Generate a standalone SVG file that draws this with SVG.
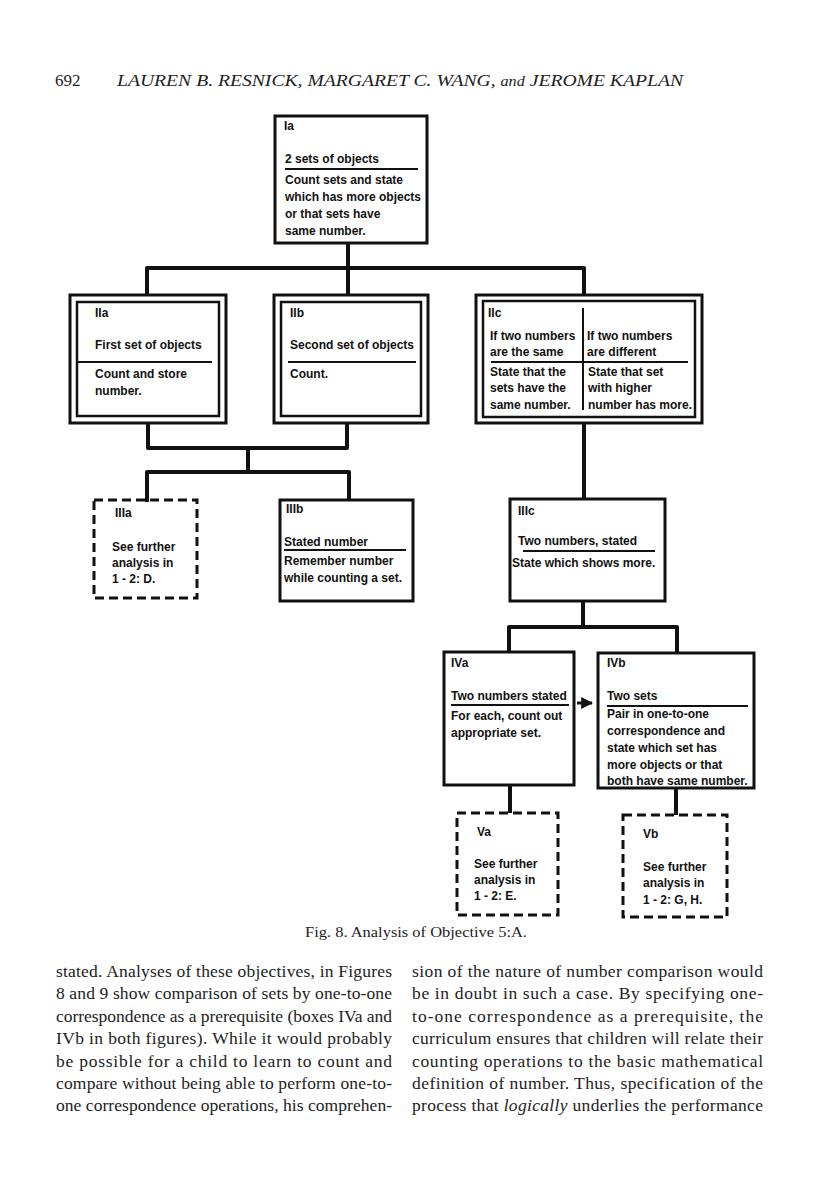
<svg xmlns="http://www.w3.org/2000/svg" width="816" height="1195" viewBox="0 0 816 1195">
<style>
.bg{fill:#fff}
.box{fill:#fff;stroke:#111;stroke-width:3}
.inner{fill:none;stroke:#111;stroke-width:2.5}
.dash{fill:#fff;stroke:#111;stroke-width:3;stroke-dasharray:9 5}
.rule{stroke:#111;stroke-width:2;fill:none}
.conn{fill:none;stroke:#111;stroke-width:4;stroke-linejoin:round}
.t{font-family:"Liberation Sans",Arial,sans-serif;font-weight:bold;font-size:12px;fill:#111}
.serif{font-family:"Liberation Serif","Times New Roman",serif;fill:#222}
.body{font-family:"Liberation Serif","Times New Roman",serif;font-size:17.5px;fill:#222}
</style>
<defs>
<marker id="ah" viewBox="0 0 10 10" refX="9" refY="5" markerWidth="4" markerHeight="4" orient="auto">
<path d="M0,0 L10,5 L0,10 z" fill="#111"/>
</marker>
</defs>
<rect class="bg" x="0" y="0" width="816" height="1195"/>

<g id="header">
<text class="serif" x="55" y="86" font-size="17">692</text>
<text class="serif" x="117" y="86" font-size="17" font-style="italic" textLength="566" lengthAdjust="spacingAndGlyphs">LAUREN B. RESNICK, MARGARET C. WANG, <tspan font-size="14">and</tspan> JEROME KAPLAN</text>
</g>

<g id="connectors">
<path class="conn" d="M348,243 V268 M147,295 V268 H584 V295 M348,268 V295"/>
<path class="conn" d="M148,423 V448 H347 V423 M248,448 V472 M147,500 V472 H349 V500"/>
<path class="conn" d="M584,423 V499"/>
<path class="conn" d="M583,602 V627 M509,652 V627 H677 V653"/>
<path class="conn" d="M510,785 V813 M676,788 V815"/>
<line x1="577" y1="703" x2="592" y2="703" stroke="#111" stroke-width="3" marker-end="url(#ah)"/>
</g>

<g id="Ia">
<rect class="box" x="275" y="116" width="152" height="127"/>
<text class="t" x="284" y="130">Ia</text>
<text class="t" x="285" y="163">2 sets of objects</text>
<line class="rule" x1="285" y1="169" x2="418" y2="169"/>
<text class="t" x="285" y="184">Count sets and state</text>
<text class="t" x="285" y="201">which has more objects</text>
<text class="t" x="285" y="218">or that sets have</text>
<text class="t" x="285" y="235">same number.</text>
</g>

<g id="IIa">
<rect class="box" x="70" y="295" width="156" height="128"/>
<rect class="inner" x="77" y="302" width="142" height="114"/>
<text class="t" x="95" y="317">IIa</text>
<text class="t" x="95" y="349">First set of objects</text>
<line class="rule" x1="77" y1="362" x2="212" y2="362"/>
<text class="t" x="95" y="378">Count and store</text>
<text class="t" x="95" y="395">number.</text>
</g>

<g id="IIb">
<rect class="box" x="274" y="295" width="154" height="128"/>
<rect class="inner" x="281" y="302" width="140" height="114"/>
<text class="t" x="290" y="317">IIb</text>
<text class="t" x="290" y="349">Second set of objects</text>
<line class="rule" x1="288" y1="362" x2="416" y2="362"/>
<text class="t" x="290" y="378">Count.</text>
</g>

<g id="IIc">
<rect class="box" x="476" y="295" width="226" height="128"/>
<rect class="inner" x="483" y="301" width="212" height="116"/>
<text class="t" x="488" y="317">IIc</text>
<line class="rule" x1="583" y1="308" x2="583" y2="410"/>
<text class="t" x="490" y="340">If two numbers</text>
<text class="t" x="490" y="356">are the same</text>
<text class="t" x="587" y="340">If two numbers</text>
<text class="t" x="587" y="356">are different</text>
<line class="rule" x1="491" y1="362" x2="688" y2="362"/>
<text class="t" x="490" y="376">State that the</text>
<text class="t" x="490" y="392">sets have the</text>
<text class="t" x="490" y="409">same number.</text>
<text class="t" x="588" y="376">State that set</text>
<text class="t" x="588" y="392">with higher</text>
<text class="t" x="588" y="409">number has more.</text>
</g>

<g id="IIIa">
<rect class="dash" x="94" y="500" width="103" height="98"/>
<line x1="147" y1="498" x2="147" y2="502" stroke="#111" stroke-width="4"/>
<text class="t" x="115" y="517">IIIa</text>
<text class="t" x="112" y="551">See further</text>
<text class="t" x="112" y="567">analysis in</text>
<text class="t" x="112" y="583">1 - 2: D.</text>
</g>

<g id="IIIb">
<rect class="box" x="280" y="500" width="133" height="101"/>
<text class="t" x="286" y="513">IIIb</text>
<text class="t" x="284" y="546">Stated number</text>
<line class="rule" x1="284" y1="550" x2="406" y2="550"/>
<text class="t" x="284" y="565">Remember number</text>
<text class="t" x="284" y="582">while counting a set.</text>
</g>

<g id="IIIc">
<rect class="box" x="510" y="499" width="155" height="102"/>
<text class="t" x="518" y="515">IIIc</text>
<text class="t" x="518" y="545">Two numbers, stated</text>
<line class="rule" x1="523" y1="551" x2="655" y2="551"/>
<text class="t" x="512" y="567">State which shows more.</text>
</g>

<g id="IVa">
<rect class="box" x="444" y="652" width="130" height="133"/>
<text class="t" x="451" y="667">IVa</text>
<text class="t" x="451" y="700">Two numbers stated</text>
<line class="rule" x1="451" y1="705" x2="569" y2="705"/>
<text class="t" x="451" y="720">For each, count out</text>
<text class="t" x="451" y="737">appropriate set.</text>
</g>

<g id="IVb">
<rect class="box" x="598" y="653" width="156" height="135"/>
<text class="t" x="607" y="667">IVb</text>
<text class="t" x="607" y="700">Two sets</text>
<line class="rule" x1="607" y1="706" x2="748" y2="706"/>
<text class="t" x="607" y="718">Pair in one-to-one</text>
<text class="t" x="607" y="735">correspondence and</text>
<text class="t" x="607" y="752">state which set has</text>
<text class="t" x="607" y="769">more objects or that</text>
<text class="t" x="607" y="785">both have same number.</text>
</g>

<g id="Va">
<rect class="dash" x="457" y="813" width="101" height="102"/>
<text class="t" x="477" y="836">Va</text>
<text class="t" x="474" y="868">See further</text>
<text class="t" x="474" y="884">analysis in</text>
<text class="t" x="474" y="900">1 - 2: E.</text>
</g>

<g id="Vb">
<rect class="dash" x="623" y="815" width="104" height="102"/>
<text class="t" x="643" y="838">Vb</text>
<text class="t" x="643" y="871">See further</text>
<text class="t" x="643" y="887">analysis in</text>
<text class="t" x="643" y="904">1 - 2: G, H.</text>
</g>

<g id="caption">
<text class="serif" x="305" y="937" font-size="14" textLength="222" lengthAdjust="spacingAndGlyphs">Fig. 8. Analysis of Objective 5:A.</text>
</g>

<g id="bodytext">
<text class="body" x="56" y="977" textLength="336" lengthAdjust="spacing">stated. Analyses of these objectives, in Figures</text>
<text class="body" x="56" y="999" textLength="336" lengthAdjust="spacing">8 and 9 show comparison of sets by one-to-one</text>
<text class="body" x="56" y="1022" textLength="336" lengthAdjust="spacing">correspondence as a prerequisite (boxes IVa and</text>
<text class="body" x="56" y="1044" textLength="336" lengthAdjust="spacing">IVb in both figures). While it would probably</text>
<text class="body" x="56" y="1067" textLength="336" lengthAdjust="spacing">be possible for a child to learn to count and</text>
<text class="body" x="56" y="1089" textLength="336" lengthAdjust="spacing">compare without being able to perform one-to-</text>
<text class="body" x="56" y="1111" textLength="336" lengthAdjust="spacing">one correspondence operations, his comprehen-</text>
<text class="body" x="412" y="977" textLength="351" lengthAdjust="spacing">sion of the nature of number comparison would</text>
<text class="body" x="412" y="999" textLength="351" lengthAdjust="spacing">be in doubt in such a case. By specifying one-</text>
<text class="body" x="412" y="1022" textLength="351" lengthAdjust="spacing">to-one correspondence as a prerequisite, the</text>
<text class="body" x="412" y="1044" textLength="351" lengthAdjust="spacing">curriculum ensures that children will relate their</text>
<text class="body" x="412" y="1067" textLength="351" lengthAdjust="spacing">counting operations to the basic mathematical</text>
<text class="body" x="412" y="1089" textLength="351" lengthAdjust="spacing">definition of number. Thus, specification of the</text>
<text class="body" x="412" y="1111" textLength="351" lengthAdjust="spacing">process that <tspan font-style="italic">logically</tspan> underlies the performance</text>
</g>
</svg>
